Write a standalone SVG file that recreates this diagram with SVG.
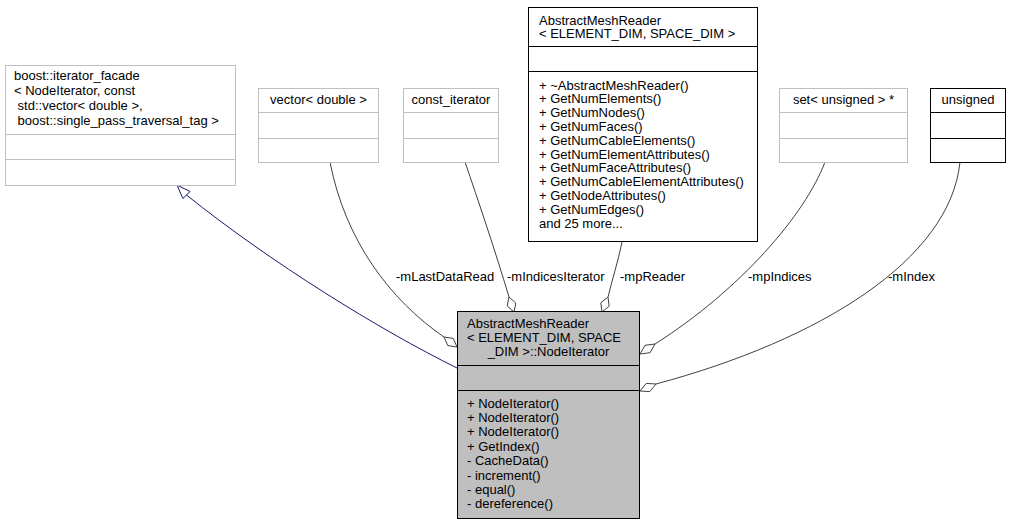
<svg xmlns="http://www.w3.org/2000/svg" width="1011" height="525" viewBox="0 0 1011 525">
<style>
text{font-family:"Liberation Sans",Arial,Helvetica,sans-serif;font-size:13px;fill:#000}
.c{text-anchor:middle}
.g{fill:#fff;stroke:#bfbfbf;stroke-width:1}
.k{fill:#fff;stroke:#000;stroke-width:1}
.m{fill:#bfbfbf;stroke:#000;stroke-width:1}
.e{fill:none;stroke:#404040;stroke-width:1}
.d{fill:#fff;stroke:#404040;stroke-width:1}
.i{fill:none;stroke:#191970;stroke-width:1}
.t{fill:#fff;stroke:#191970;stroke-width:1}
</style>
<rect width="1011" height="525" fill="#fff"/>
<g id="edges">
<path class="i" d="M457,368 C380,330 270,262 186.5,195"/>
<polygon class="t" points="177,185 190.1,191.5 182.9,198.5"/>
<path class="e" d="M330,162 C345,240 390,300 444,337"/>
<polygon class="d" points="457,347 453.25,338.44 444,337 447.75,345.56"/>
<text x="396" y="281">-mLastDataRead</text>
<path class="e" d="M465,162 C478,200 495,250 509,297"/>
<polygon class="d" points="514,312 515.8,303.1 509,297 507.2,305.9"/>
<text x="507" y="281">-mIndicesIterator</text>
<path class="e" d="M622,242 C618,262 612,280 608,297"/>
<polygon class="d" points="602,312 600.8,302.8 608,297 609.2,306.2"/>
<text x="620" y="281">-mpReader</text>
<path class="e" d="M825,162 C805,215 740,290 655,344"/>
<polygon class="d" points="640,354 645,345.3 655,344 650,352.7"/>
<text x="748" y="281">-mpIndices</text>
<path class="e" d="M960,162 C950,260 820,340 656,384"/>
<polygon class="d" points="640,391 646.2,383.4 656,384 649.8,391.6"/>
<text x="888" y="281">-mIndex</text>
</g>
<g id="node_facade">
<rect class="g" x="5.5" y="65.5" width="230" height="120"/>
<line class="g" x1="5.5" y1="134.5" x2="235.5" y2="134.5"/>
<line class="g" x1="5.5" y1="159.5" x2="235.5" y2="159.5"/>
<text x="14" y="80">boost::iterator_facade</text>
<text x="14" y="95">&lt; NodeIterator, const</text>
<text x="14" y="110" xml:space="preserve"> std::vector&lt; double &gt;,</text>
<text x="14" y="125" xml:space="preserve"> boost::single_pass_traversal_tag &gt;</text>
</g>
<g id="node_vector">
<rect class="g" x="258.5" y="88.5" width="120" height="74"/>
<line class="g" x1="258.5" y1="112.5" x2="378.5" y2="112.5"/>
<line class="g" x1="258.5" y1="138.5" x2="378.5" y2="138.5"/>
<text class="c" x="318.5" y="104">vector&lt; double &gt;</text>
</g>
<g id="node_const_iterator">
<rect class="g" x="403.5" y="88.5" width="95" height="74"/>
<line class="g" x1="403.5" y1="112.5" x2="498.5" y2="112.5"/>
<line class="g" x1="403.5" y1="138.5" x2="498.5" y2="138.5"/>
<text class="c" x="451" y="104">const_iterator</text>
</g>
<g id="node_reader">
<rect class="k" x="528.5" y="7.5" width="229" height="234"/>
<line class="k" x1="528.5" y1="46.5" x2="757.5" y2="46.5"/>
<line class="k" x1="528.5" y1="71.5" x2="757.5" y2="71.5"/>
<text x="539" y="24.5">AbstractMeshReader</text>
<text x="539" y="38">&lt; ELEMENT_DIM, SPACE_DIM &gt;</text>
<text x="539" y="89.5">+ ~AbstractMeshReader()</text>
<text x="539" y="103.3">+ GetNumElements()</text>
<text x="539" y="117.1">+ GetNumNodes()</text>
<text x="539" y="130.9">+ GetNumFaces()</text>
<text x="539" y="144.7">+ GetNumCableElements()</text>
<text x="539" y="158.5">+ GetNumElementAttributes()</text>
<text x="539" y="172.3">+ GetNumFaceAttributes()</text>
<text x="539" y="186.1">+ GetNumCableElementAttributes()</text>
<text x="539" y="199.9">+ GetNodeAttributes()</text>
<text x="539" y="213.7">+ GetNumEdges()</text>
<text x="539" y="227.5">and 25 more...</text>
</g>
<g id="node_set">
<rect class="g" x="779.5" y="88.5" width="128" height="74"/>
<line class="g" x1="779.5" y1="112.5" x2="907.5" y2="112.5"/>
<line class="g" x1="779.5" y1="138.5" x2="907.5" y2="138.5"/>
<text class="c" x="843.5" y="104">set&lt; unsigned &gt; *</text>
</g>
<g id="node_unsigned">
<rect class="k" x="930.5" y="88.5" width="75" height="74"/>
<line class="k" x1="930.5" y1="112.5" x2="1005.5" y2="112.5"/>
<line class="k" x1="930.5" y1="138.5" x2="1005.5" y2="138.5"/>
<text class="c" x="968" y="104">unsigned</text>
</g>
<g id="node_nodeiterator">
<rect class="m" x="457.5" y="311.5" width="182" height="207"/>
<line class="m" x1="457.5" y1="365.5" x2="639.5" y2="365.5"/>
<line class="m" x1="457.5" y1="390.5" x2="639.5" y2="390.5"/>
<text x="467" y="328">AbstractMeshReader</text>
<text x="467" y="342">&lt; ELEMENT_DIM, SPACE</text>
<text class="c" x="548.5" y="356">_DIM &gt;::NodeIterator</text>
<text x="467" y="407.5">+ NodeIterator()</text>
<text x="467" y="421.9">+ NodeIterator()</text>
<text x="467" y="436.3">+ NodeIterator()</text>
<text x="467" y="450.7">+ GetIndex()</text>
<text x="467" y="465.1">- CacheData()</text>
<text x="467" y="479.5">- increment()</text>
<text x="467" y="493.9">- equal()</text>
<text x="467" y="508.3">- dereference()</text>
</g>
</svg>
